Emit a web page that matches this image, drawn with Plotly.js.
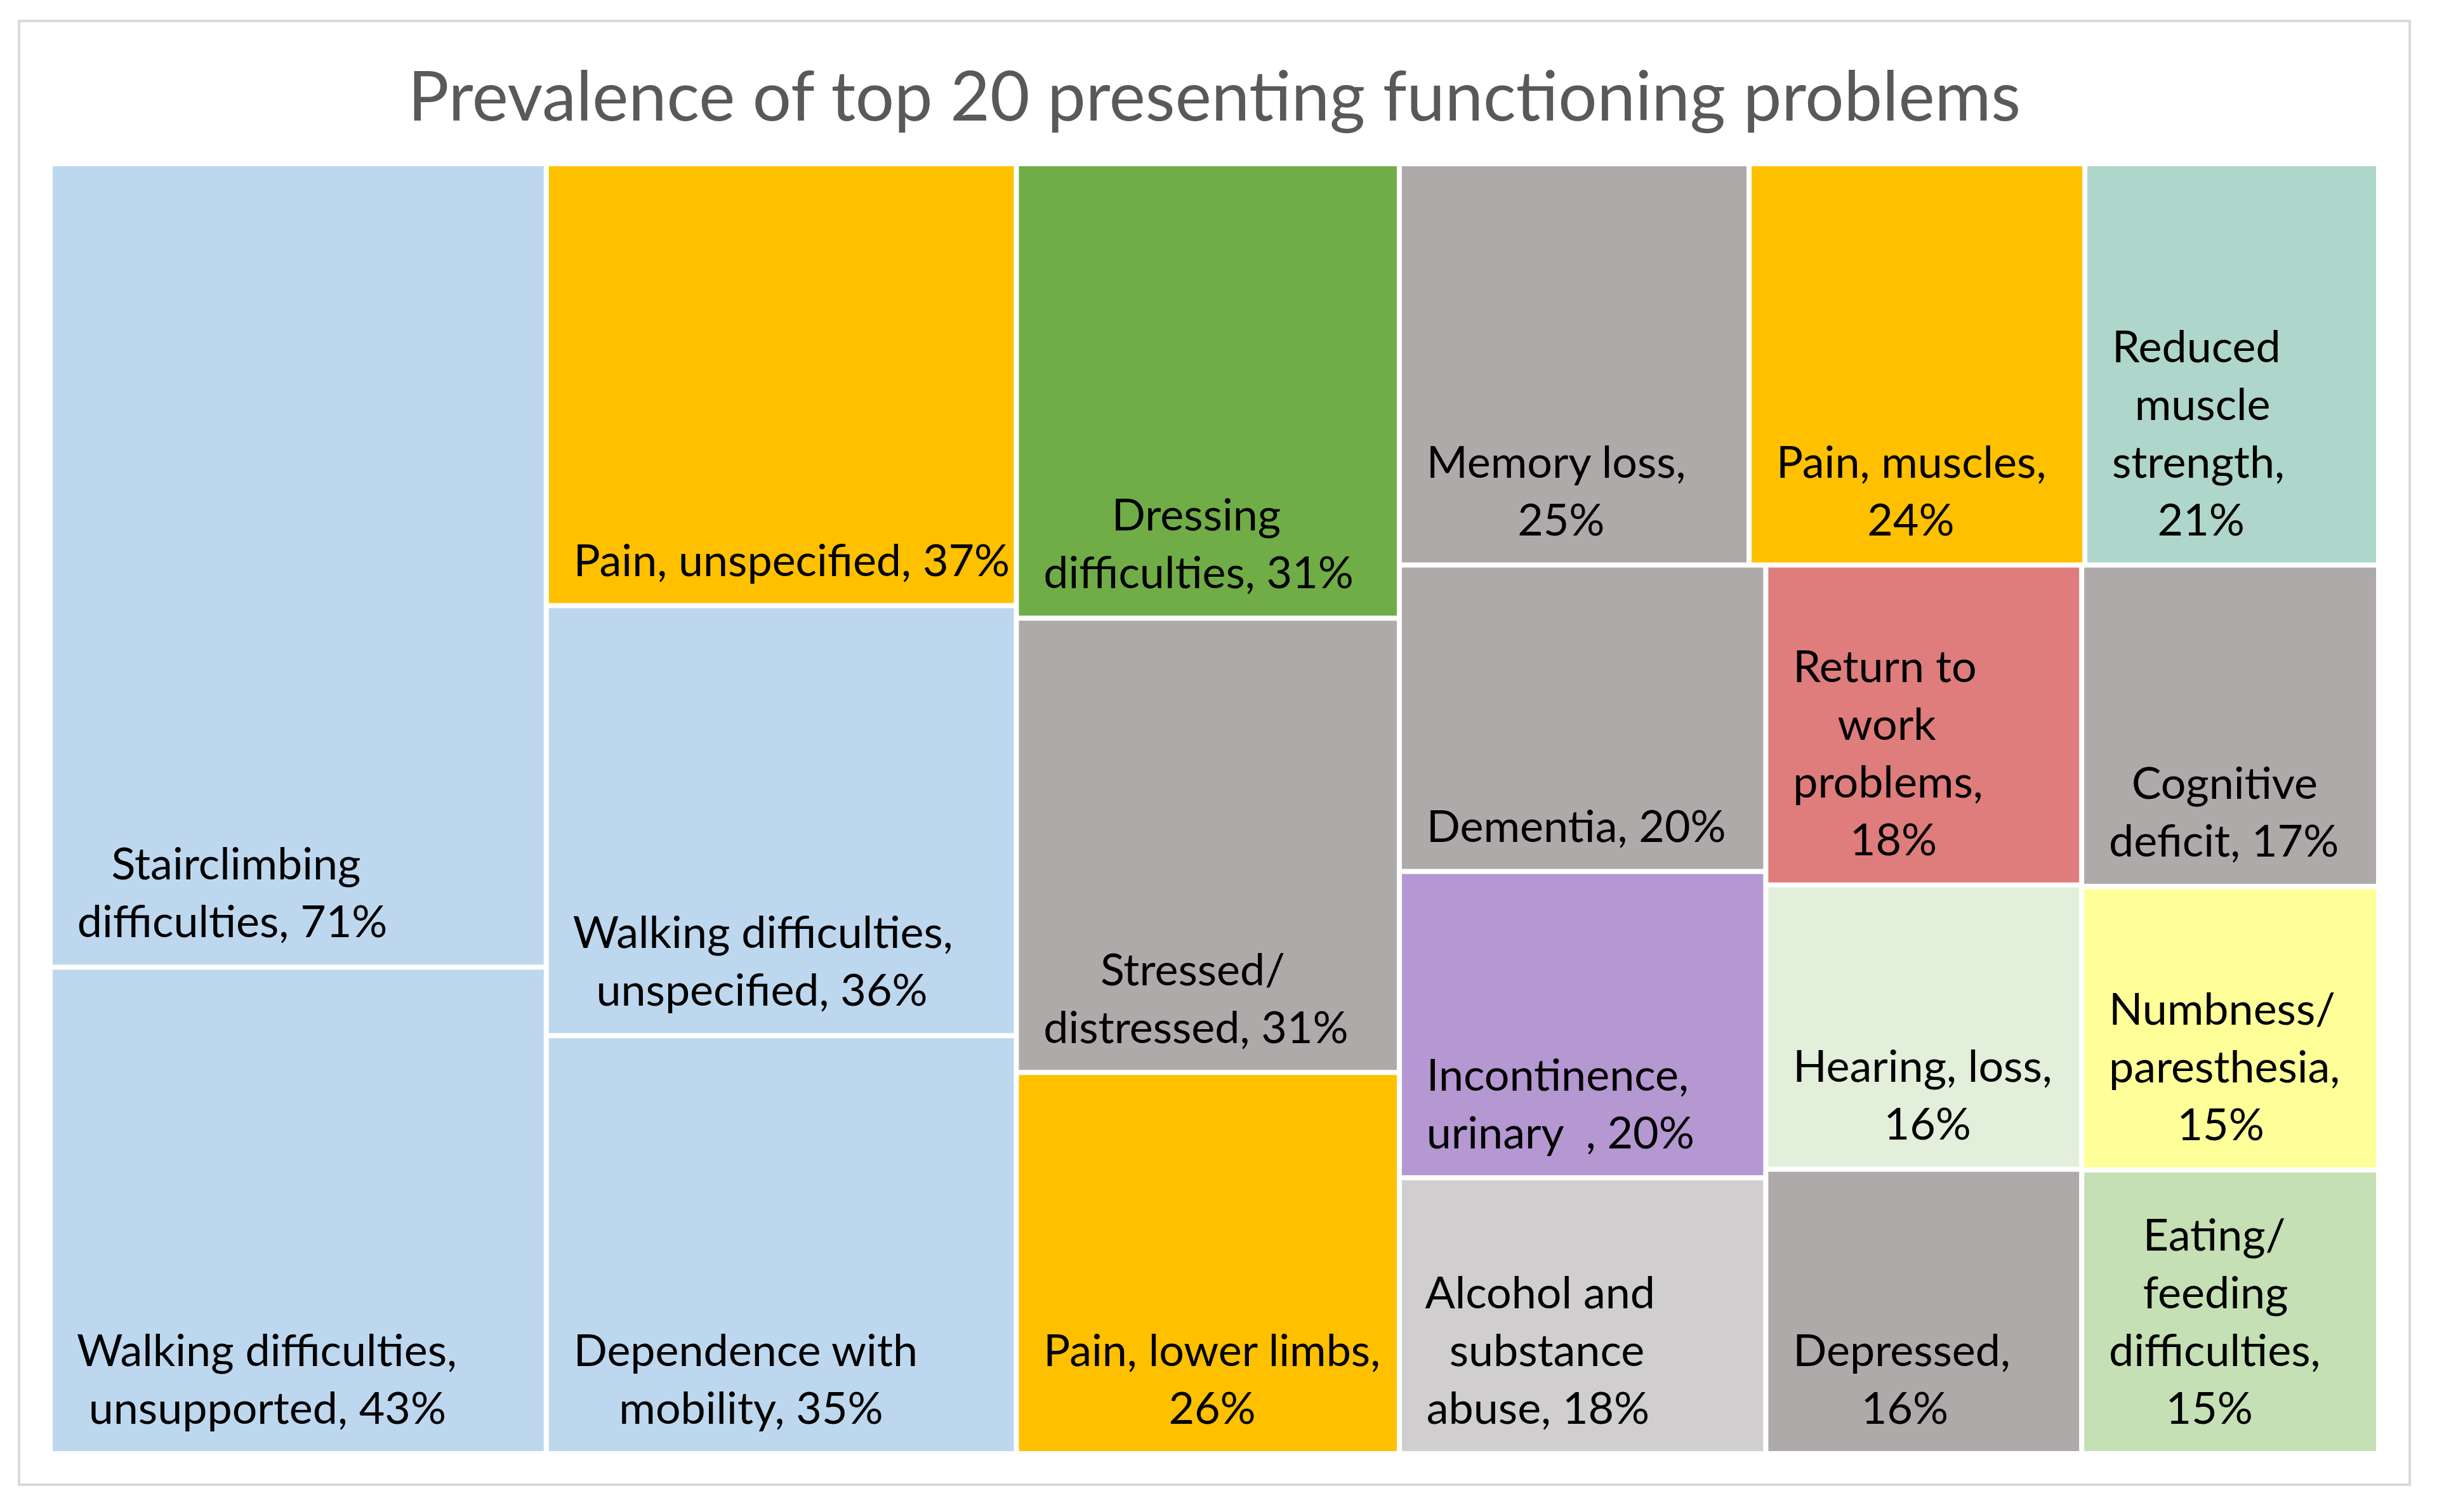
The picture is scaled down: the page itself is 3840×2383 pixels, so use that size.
<!DOCTYPE html>
<html>
<head>
<meta charset="utf-8">
<script src="https://cdn.plot.ly/plotly-3.0.1.min.js"></script>
<style>
html,body{margin:0;padding:0;background:#ffffff;}
#chart{width:3840px;height:2383px;}
</style>
</head>
<body>
<div id="chart"></div>
<script>
// ---- data ----
const problems = [
  "Stairclimbing difficulties",
  "Walking difficulties, unsupported",
  "Pain, unspecified",
  "Walking difficulties, unspecified",
  "Dependence with mobility",
  "Dressing difficulties",
  "Stressed/ distressed",
  "Pain, lower limbs",
  "Memory loss",
  "Pain, muscles",
  "Reduced muscle strength",
  "Dementia",
  "Incontinence, urinary",
  "Alcohol and substance abuse",
  "Return to work problems",
  "Hearing, loss",
  "Depressed",
  "Cognitive deficit",
  "Numbness/ paresthesia",
  "Eating/ feeding difficulties"
];
const prevalence = [71, 43, 37, 36, 35, 31, 31, 26, 25, 24, 21, 20, 20, 18, 18, 16, 16, 17, 15, 15];

// label lines as wrapped in the original chart ({v} = value)
const labelLines = [
  ["Stairclimbing", "difficulties, {v}%"],
  ["Walking difficulties,", "unsupported, {v}%"],
  ["Pain, unspecified, {v}%"],
  ["Walking difficulties,", "unspecified, {v}%"],
  ["Dependence with", "mobility, {v}%"],
  ["Dressing", "difficulties, {v}%"],
  ["Stressed/", "distressed, {v}%"],
  ["Pain, lower limbs,", "{v}%"],
  ["Memory loss,", "{v}%"],
  ["Pain, muscles,", "{v}%"],
  ["Reduced", "muscle", "strength,", "{v}%"],
  ["Dementia, {v}%"],
  ["Incontinence,", "urinary\u00a0 , {v}%"],
  ["Alcohol and", "substance", "abuse, {v}%"],
  ["Return to", "work", "problems,", "{v}%"],
  ["Hearing, loss,", "{v}%"],
  ["Depressed,", "{v}%"],
  ["Cognitive", "deficit, {v}%"],
  ["Numbness/", "paresthesia,", "{v}%"],
  ["Eating/", "feeding", "difficulties,", "{v}%"]
];

// grouping of the tiles (structure of the original layout)
const tileGroup = ["col1","col1","col2","col2","col2","col3","col3","col3",
                   "top4","top4","top4","sub1","sub1","sub1","sub2","sub2","sub2","sub3","sub3","sub3"];
const groupIds     = ["col1","col2","col3","col4","top4","bottom4","sub1","sub2","sub3"];
const groupParents = ["all","all","all","all","col4","col4","bottom4","bottom4","bottom4"];

const tileColors = [
  "#BDD7EE","#BDD7EE","#FFC000","#BDD7EE","#BDD7EE",
  "#70AD47","#AEAAAA","#FFC000",
  "#AEAAAA","#FFC000","#AED6CB",
  "#AEAAAA","#B597D1","#D0CECE",
  "#DF7C7C","#E2EFDA","#AEAAAA",
  "#AEAAAA","#FFFF99","#C5E0B4"
];

// ---- label text: lines centred within a left-aligned block ----
const FONT = "Lato, 'Open Sans', sans-serif";
const FS = 70;
const ctx = document.createElement("canvas").getContext("2d");
ctx.font = FS + "px Lato";
const NB = "\u00a0";
const nbW = ctx.measureText(NB).width || FS * 0.19;
function buildText(lines, v) {
  const ls = lines.map(s => s.replace("{v}", String(v)));
  const ws = ls.map(s => ctx.measureText(s).width);
  const maxW = Math.max.apply(null, ws);
  const out = ls.map((s, i) => NB.repeat(2 + Math.round((maxW - ws[i]) / 2 / nbW)) + s);
  // small lift of the block above the tile bottom
  out[out.length - 1] += '<sub><span style="font-size:118px">' + NB + '</span></sub>';
  return out.join("<br>");
}
const tileText = labelLines.map((lines, i) => buildText(lines, prevalence[i]));

// ---- build hierarchy ----
const ids = ["all"].concat(groupIds, problems);
const labels = [" "].concat(groupIds.map(() => " "), problems);
const parents = [""].concat(groupParents, tileGroup);
const values = [0].concat(groupIds.map(() => 0), prevalence);
const colors = ["#ffffff"].concat(groupIds.map(() => "#ffffff"), tileColors);
const texts = [""].concat(groupIds.map(() => ""), tileText);

const trace = {
  type: "treemap",
  ids: ids,
  labels: labels,
  parents: parents,
  values: values,
  branchvalues: "remainder",
  sort: false,
  text: texts,
  textinfo: "text",
  textposition: "bottom left",
  textfont: {family: FONT, size: FS, color: "#000000"},
  marker: {
    colors: colors,
    line: {width: 0, color: "#ffffff"},
    pad: {t: 0, l: 0, r: 0, b: 0},
    depthfade: false
  },
  tiling: {packing: "slice-dice", pad: 8},
  pathbar: {visible: false},
  hoverinfo: "skip",
  root: {color: "#ffffff"}
};

const W = 3840, H = 2383;
const mL = 83, mR = 96, mT = 262, mB = 96;
const pw = W - mL - mR, ph = H - mT - mB;

const layout = {
  width: W, height: H,
  margin: {l: mL, r: mR, t: mT, b: mB, pad: 0},
  paper_bgcolor: "#ffffff",
  plot_bgcolor: "#ffffff",
  title: {
    text: "Prevalence of top 20 presenting functioning problems",
    font: {family: FONT, size: 108, color: "#595959"},
    x: 0.5, xref: "paper", xanchor: "center",
    y: 1 - 152 / H, yref: "container", yanchor: "middle"
  },
  uniformtext: {mode: "show", minsize: FS},
  shapes: [{
    type: "rect", xref: "paper", yref: "paper",
    x0: (30 - mL) / pw, x1: (3797 - mL) / pw,
    y0: -(2340 - (H - mB)) / ph, y1: 1 + (mT - 33) / ph,
    line: {color: "#D9D9D9", width: 4},
    fillcolor: "rgba(0,0,0,0)",
    layer: "below"
  }],
  showlegend: false
};

Plotly.newPlot("chart", [trace], layout, {displayModeBar: false, staticPlot: true});
</script>
</body>
</html>
